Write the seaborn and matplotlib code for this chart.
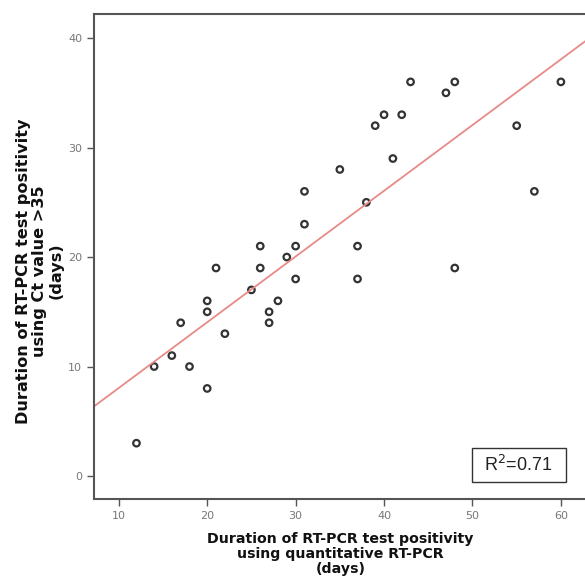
import numpy as np
import pandas as pd
import matplotlib
matplotlib.use("Agg")
import matplotlib.pyplot as plt
from matplotlib.patches import Rectangle
import seaborn as sns

# durations (days)
qpcr_days = [12, 14, 16, 17, 18, 20, 20, 20, 21, 22, 25, 26, 26, 27, 27, 28, 29, 30,
             30, 31, 31, 35, 37, 37, 38, 39, 40, 41, 42, 43, 47, 48, 48, 55, 57, 60]
ct35_days = [3, 10, 11, 14, 10, 8, 15, 16, 19, 13, 17, 19, 21, 14, 15, 16, 20, 18,
             21, 23, 26, 28, 18, 21, 25, 32, 33, 29, 33, 36, 35, 36, 19, 32, 26, 36]
x_ticks = [10, 20, 30, 40, 50, 60]
y_ticks = [0, 10, 20, 30, 40]
r2_label = "R$^2$=0.71"

df = pd.DataFrame({"qpcr": qpcr_days, "ct35": ct35_days})

sns.set_style("white")
plt.rcParams["font.family"] = ["DejaVu Sans"]

fig = plt.figure(figsize=(5.85, 5.81), dpi=100)
ax = fig.add_axes([0.1607, 0.1411, 0.851, 0.8348])
ax.set_xlim(7.2, 63.5)
ax.set_ylim(-2.1, 42.2)

sns.regplot(data=df, x="qpcr", y="ct35", ax=ax, ci=None, truncate=False,
            scatter_kws=dict(s=22, facecolors="none", edgecolors="black", linewidths=1.6),
            line_kws=dict(color="#e88a87", lw=1.3))

ax.set_xlim(7.2, 63.5)
ax.set_ylim(-2.1, 42.2)
ax.set_xticks(x_ticks)
ax.set_yticks(y_ticks)
ax.tick_params(axis="both", which="both", length=5, width=1, color="#555555",
               labelsize=8, labelcolor="#777777", direction="out")
ax.tick_params(left=True, bottom=True)
for side in ["left", "bottom", "top", "right"]:
    ax.spines[side].set_color("#555555")
    ax.spines[side].set_linewidth(1.5)

ax.set_xlabel("Duration of RT-PCR test positivity\nusing quantitative RT-PCR\n(days)",
              fontsize=10.2, fontweight="bold", linespacing=1.1, color="#111111")
ax.xaxis.set_label_coords(0.495, -0.068)
ax.set_ylabel("Duration of RT-PCR test positivity\nusing Ct value >35\n(days)",
              fontsize=11.6, fontweight="bold", linespacing=1.1, color="#111111")
ax.yaxis.set_label_coords(-0.062, 0.47)

ax.add_patch(Rectangle((0.759, 0.035), 0.189, 0.070, transform=ax.transAxes,
                       facecolor="white", edgecolor="#333333", lw=1, zorder=5))
ax.text(0.853, 0.070, r2_label, transform=ax.transAxes, fontsize=13,
        family="Liberation Sans", color="#222222", ha="center", va="center", zorder=6)

fig.savefig("out.png", dpi=100)
